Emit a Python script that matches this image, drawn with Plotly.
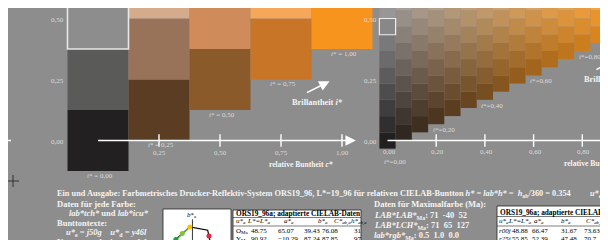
import plotly.graph_objects as go

W, H = 608, 240
BG = "#8d8d8d"
SERIF = "Liberation Serif"
TXT = "#f4f4f4"
LBL = "#dcdcdc"


def px(x):
    return x / W


def py(y):
    return 1 - y / H


# ---------------- left chart (relative chroma c*, relative lightness l*) ----------------
left_c = [0.0, 0.0, 0.0, 0.25, 0.25, 0.25, 0.50, 0.50, 0.75, 0.75, 1.00]
left_l = [0.0, 0.25, 0.50, 0.125, 0.375, 0.625, 0.25, 0.50, 0.375, 0.625, 0.50]
left_colors = ["#232021", "#5a5a58", "#8d8d8d", "#5a3d23", "#98735a", "#d4ac8c",
               "#8b5a2b", "#cf8b5a", "#c87528", "#f7a75a", "#f7941d"]
left_outlined = [False, False, True, False, False, False, False, False, False, False, False]
left_step = 0.25
left_xticks = [0.25, 0.50, 0.75, 1.00]
left_xtick_text = ["0,25", "0,50", "0,75", "1,00"]
left_yticks = [0.0, 0.25, 0.50]
left_ytick_text = ["0,00", "0,25", "0,50"]
left_brill_c = [0.0, 0.25, 0.50, 0.75, 1.00]
left_brill_low = [0.0, 0.125, 0.25, 0.375, 0.50]
left_brill_text = ["0,00", "0,25", "0,50", "0,75", "1,00"]

# ---------------- right chart (15 steps) ----------------
right_c = [0/15, 1/15, 2/15, 3/15, 4/15, 5/15, 6/15, 7/15, 8/15, 9/15, 10/15,
           11/15, 12/15, 13/15, 14/15, 15/15]
right_cells = [16, 15, 14, 13, 12, 11, 10, 9, 8, 7, 6, 5, 4, 3, 2, 1]
right_step = 1 / 15
right_outlined_cell = (0, 7)
black_rgb = (34, 31, 32)
white_rgb = (255, 255, 255)
max_rgb = (247, 148, 29)
right_xticks = [0.2, 0.4, 0.6, 0.8]
right_xtick_text = ["0,00", "0,20", "0,40", "0,60", "0,80"]
right_yticks = [0.0, 0.25, 0.50]
right_ytick_text = ["0,00", "0,25", "0,50"]
right_brill_c = [0.0, 0.2, 0.4, 0.6, 0.8]
right_brill_text = ["0,00", "0,20", "0,40", "0,60", "0,80"]

# ---------------- hue diagram ----------------
poly_a = [-50.0, -65.44, -10.29, 60.0, 65.07, 75.0]
poly_b = [-25.0, 20.75, 87.24, 70.0, 39.43, -25.0]
dot_a = [-65.44, -10.29, 65.07, -40.0]
dot_b = [20.75, 87.24, 39.43, 52.0]
dot_col = ["#13a04a", "#f5c400", "#e8233c", "#7cc43c"]
hue_line_a = [-10.29, -85.0]
hue_line_b = [87.24, -9.0]

# ---------------- tables ----------------
tab_title = "ORS19_96a; adaptierte CIELAB-Daten"
tab_head = ["u*<sub>a</sub>", "L*=L*<sub>a</sub>", "a*<sub>a</sub>", "b*<sub>a</sub>",
            "C*<sub>ab,a</sub>", "h*<sub>ab,a</sub>"]
t1_rows = [["O<sub>Ma</sub>", "48.75", "65.07", "39.43", "76.08", "31"],
           ["Y<sub>Ma</sub>", "90.92", "\u221210.29", "87.24", "87.85", "97"],
           ["L<sub>Ma</sub>", "57.69", "\u221265.44", "20.75", "68.65", "162"]]
t2_rows = [["<i>r00j</i>", "48.88", "66.47", "31.67", "73.63", "25"],
           ["<i>r25j</i>", "55.85", "52.39", "47.48", "70.7", "42"],
           ["<i>r50j</i>", "65.45", "35.22", "58.37", "68.17", "59"]]
ma_lab = ["71", "-40", "52"]
ma_lch = ["71", "65", "127"]
ma_rgb = ["0.5", "1.0", "0.0"]

fig = go.Figure()

# axis lines (below the colour cells)
fig.add_trace(go.Scatter(x=[0, 1.0], y=[0, 0], mode="lines", line=dict(color="white", width=1.5),
                         xaxis="x", yaxis="y", hoverinfo="skip", showlegend=False))
fig.add_trace(go.Scatter(x=[0, 1.3], y=[0, 0], mode="lines", line=dict(color="white", width=1.5),
                         xaxis="x2", yaxis="y", hoverinfo="skip", showlegend=False))

# left cells
fig.add_trace(go.Bar(x=left_c, y=[left_step] * len(left_c), base=[l - left_step / 2 for l in left_l],
                     width=left_step, marker=dict(color=left_colors, line=dict(width=0)),
                     xaxis="x", yaxis="y", hoverinfo="skip", showlegend=False))
oc = [c for c, o in zip(left_c, left_outlined) if o]
ol = [l for l, o in zip(left_l, left_outlined) if o]
ocol = [k for k, o in zip(left_colors, left_outlined) if o]
fig.add_trace(go.Bar(x=oc, y=[left_step] * len(oc), base=[l - left_step / 2 for l in ol],
                     width=left_step, marker=dict(color=ocol, line=dict(width=1.6, color="#e8e8e8")),
                     xaxis="x", yaxis="y", hoverinfo="skip", showlegend=False))


def mix(c, l):
    w = l - c / 2
    b = 1 - c - w
    rgb = [min(255, max(0, round(c * m + w * wh + b * bk))) for m, wh, bk in zip(max_rgb, white_rgb, black_rgb)]
    return "rgb(%d,%d,%d)" % tuple(rgb)


rx, rb, rcol = [], [], []
for k, (c, n) in enumerate(zip(right_c, right_cells)):
    for j in range(n):
        l = c / 2 + j * right_step
        rx.append(c)
        rb.append(l - right_step / 2)
        rcol.append(mix(c, l))
fig.add_trace(go.Bar(x=rx, y=[right_step] * len(rx), base=rb, width=right_step,
                     marker=dict(color=rcol, line=dict(width=0)),
                     xaxis="x2", yaxis="y", hoverinfo="skip", showlegend=False))
kc, kj = right_outlined_cell
lo = right_c[kc] / 2 + kj * right_step
fig.add_trace(go.Bar(x=[right_c[kc]], y=[right_step], base=[lo - right_step / 2], width=right_step,
                     marker=dict(color=mix(right_c[kc], lo), line=dict(width=1.2, color="#eeeeee")),
                     xaxis="x2", yaxis="y", hoverinfo="skip", showlegend=False))

# tick marks
fig.add_trace(go.Scatter(x=left_xticks, y=[0] * len(left_xticks), mode="markers",
                         marker=dict(symbol="line-ns", size=9, line=dict(color="white", width=1.4)),
                         xaxis="x", yaxis="y", hoverinfo="skip", showlegend=False))
fig.add_trace(go.Scatter(x=right_xticks, y=[0] * len(right_xticks), mode="markers",
                         marker=dict(symbol="line-ns", size=9, line=dict(color="white", width=1.4)),
                         xaxis="x2", yaxis="y", hoverinfo="skip", showlegend=False))

# hue diagram
fig.add_trace(go.Scatter(x=[-110, 95], y=[0, 0], mode="lines", line=dict(color="black", width=0.8),
                         xaxis="x3", yaxis="y3", hoverinfo="skip", showlegend=False))
fig.add_trace(go.Scatter(x=[0, 0], y=[-25, 128], mode="lines", line=dict(color="black", width=0.8),
                         xaxis="x3", yaxis="y3", hoverinfo="skip", showlegend=False))
fig.add_trace(go.Scatter(x=poly_a, y=poly_b, mode="lines", line=dict(color="black", width=1.2),
                         xaxis="x3", yaxis="y3", hoverinfo="skip", showlegend=False))
fig.add_trace(go.Scatter(x=hue_line_a, y=hue_line_b, mode="lines", line=dict(color="#6cc040", width=1.2),
                         xaxis="x3", yaxis="y3", hoverinfo="skip", showlegend=False))
fig.add_trace(go.Scatter(x=dot_a, y=dot_b, mode="markers", marker=dict(color=dot_col, size=5),
                         xaxis="x3", yaxis="y3", hoverinfo="skip", showlegend=False))

ann = []


def text(x, y, t, size=8.5, color=TXT, xanchor="left", xref="paper", yref="paper", **kw):
    d = dict(x=x, y=y, text=t, xref=xref, yref=yref, xanchor=xanchor, yanchor="middle",
             showarrow=False, font=dict(family=SERIF, size=size, color=color), borderpad=0)
    d.update(kw)
    ann.append(d)


# tick labels
for v, t in zip(left_xticks, left_xtick_text):
    text(v, py(144.5), t, size=7, color=LBL, xanchor="center", xref="x")
for v, t in zip([0.0] + right_xticks, right_xtick_text):
    text(v, py(144), t, size=7, color=LBL, xanchor="center", xref="x2", xshift=1.5)
for v, t in zip(left_yticks, left_ytick_text):
    text(px(57), v, t, size=7, color=LBL, xanchor="right", yref="y", yshift=-1.5)
for v, t in zip(right_yticks, right_ytick_text):
    text(px(362), v, t, size=7, color=LBL, xanchor="center", yref="y", yshift=-1.5)

# brilliance labels
for c, lo_, t in zip(left_brill_c, left_brill_low, left_brill_text):
    text(c, lo_ - left_step / 2, "<i>i</i>* = " + t, size=7, color=LBL, xanchor="center",
         xref="x", yref="y", xshift=1.5, yshift=-4.5)
for c, t in zip(right_brill_c, right_brill_text):
    text(c - right_step / 2, c / 2 - right_step / 2, "<i>i</i>*=" + t, size=7, color=LBL,
         xref="x2", yref="y", xshift=3.5, yshift=(-13 if c == 0 else -6))

# axis titles / Brillantheit
text(px(292.5), py(156), "<b>relative Buntheit <i>c*</i></b>", size=7.6, xanchor="center")
text(px(555), py(155), "<b>relative Buntheit <i>c*</i></b>", size=7.6)
text(px(310), py(95), "<b>Brillantheit <i>i*</i></b>", size=8.4, xanchor="center")
text(px(575), py(71), "<b>Brillantheit <i>i*</i></b>", size=8.4)

# arrows
ann.append(dict(x=1.057, y=0, ax=0.99, ay=0, xref="x", yref="y", axref="x", ayref="y", text="",
                showarrow=True, arrowhead=2, arrowsize=1.4, arrowwidth=1.5, arrowcolor="white"))
ann.append(dict(x=0.949, y=0.243, ax=0.85, ay=0.193, xref="x", yref="y", axref="x", ayref="y", text="",
                showarrow=True, arrowhead=2, arrowsize=1.3, arrowwidth=1.6, arrowcolor="white"))
ann.append(dict(x=0.946, y=0.34, ax=0.852, ay=0.287, xref="x2", yref="y", axref="x2", ayref="y", text="",
                showarrow=True, arrowhead=2, arrowsize=1.3, arrowwidth=1.6, arrowcolor="white"))

# bottom text
text(px(48), py(186), "<b>Ein und Ausgabe: Farbmetrisches Drucker-Reflektiv-System ORS19_96, L*=19_96 "
     "für relativen CIELAB-Buntton <i>h* = lab*h* = </i> <i>h</i><sub>ab</sub>/360 = 0.354</b>", size=8.3)
text(px(581), py(186), "<b><i>u*</i><sub>e</sub> =</b>", size=8.3)
text(px(48), py(196), "<b>Daten für jede Farbe:</b>")
text(px(60), py(205), "<b><i>lab*tch*</i> und <i>lab*icu*</i></b>")
text(px(48), py(215), "<b>Bunttontexte:</b>")
text(px(57), py(224), "<b><i>u*</i><sub>e</sub><i> = j50g</i>\u00a0\u00a0\u00a0\u00a0<i>u*</i><sub>d</sub><i> = y46l</i></b>")
text(px(48), py(234), "<b>Kontrastreduzierungsfaktor:</b>")
sp = "\u00a0\u00a0"
text(px(365), py(196), "<b>Daten für Maximalfarbe (Ma):</b>")
text(px(365), py(207), "<b><i>LAB*LAB*</i><sub>Ma</sub>: " + sp.join(ma_lab) + "</b>")
text(px(365), py(217), "<b><i>LAB*LCH*</i><sub>Ma</sub>: " + sp.join(ma_lch) + "</b>")
text(px(365), py(227), "<b><i>lab*rgb*</i><sub>Ma</sub>: " + sp.join(ma_rgb) + "</b>")

# hue diagram labels
text(-2, 150, "<i>b</i>*<sub>a</sub>", size=7, color="black", xanchor="center", xref="x3", yref="y3")
text(px(215), py(235), "<i>a</i>*<sub>a</sub>", size=7, color="black", xanchor="center")

# tables
t1_cols = [227, 242, 269, 295, 313, 345]
t1_hcols = [227, 238, 275, 309, 325, 342]
t2_cols = [490, 503, 523, 552, 575, 600]
t2_hcols = [490, 499, 525, 552, 577, 598]
TS = 7
for (x0, ytitle, cols, hcols, rows, rowy) in [
        (227, 205, t1_cols, t1_hcols, t1_rows, [223, 231, 239]),
        (491, 204, t2_cols, t2_hcols, t2_rows, [223, 231, 238])]:
    text(px(x0), py(ytitle), "<b>" + tab_title + "</b>", size=7.3, color="black")
    for hx, h in zip(hcols, tab_head):
        text(px(hx), py(213), "<i>" + h + "</i>", size=TS, color="black")
    for ry, row in zip(rowy, rows):
        for cx, v in zip(cols, row):
            text(px(cx), py(ry), v, size=TS, color="black")

shapes = [
    dict(type="rect", xref="paper", yref="paper", x0=px(155), x1=px(223), y0=py(250), y1=py(201),
         fillcolor="white", line=dict(color="#222", width=0.8), layer="below"),
    dict(type="rect", xref="paper", yref="paper", x0=px(225), x1=px(353), y0=py(250), y1=py(202),
         fillcolor="white", line=dict(color="#222", width=0.8), layer="below"),
    dict(type="rect", xref="paper", yref="paper", x0=px(489), x1=px(620), y0=py(250), y1=py(198),
         fillcolor="white", line=dict(color="#222", width=0.8), layer="below"),
    dict(type="line", xref="paper", yref="paper", x0=px(225), x1=px(353), y0=py(209.5), y1=py(209.5),
         line=dict(color="#222", width=0.6), layer="below"),
    dict(type="line", xref="paper", yref="paper", x0=px(225), x1=px(353), y0=py(218), y1=py(218),
         line=dict(color="#222", width=0.6), layer="below"),
    dict(type="line", xref="paper", yref="paper", x0=px(489), x1=px(620), y0=py(208.5), y1=py(208.5),
         line=dict(color="#222", width=0.6), layer="below"),
    dict(type="line", xref="paper", yref="paper", x0=px(489), x1=px(620), y0=py(218), y1=py(218),
         line=dict(color="#222", width=0.6), layer="below"),
    # registration cross and edge tick
    dict(type="line", xref="paper", yref="paper", x0=px(0), x1=px(11), y0=py(173), y1=py(173),
         line=dict(color="#333", width=1)),
    dict(type="line", xref="paper", yref="paper", x0=px(5), x1=px(5), y0=py(167), y1=py(179),
         line=dict(color="#333", width=1)),
    dict(type="line", xref="paper", yref="paper", x0=px(0), x1=px(3), y0=py(132.5), y1=py(132.5),
         line=dict(color="white", width=1.5)),
]

ax_common = dict(visible=False, showgrid=False, zeroline=False, fixedrange=True)
fig.update_layout(
    width=W, height=H, margin=dict(l=0, r=0, t=0, b=0),
    paper_bgcolor=BG, plot_bgcolor="rgba(0,0,0,0)",
    barmode="overlay", showlegend=False,
    xaxis=dict(domain=[0, 1], range=[(0 - 90) / 244, (608 - 90) / 244], **ax_common),
    xaxis2=dict(domain=[0, 1], range=[(0 - 379.5) / 243.5, (608 - 379.5) / 243.5],
                overlaying="x", anchor="y", **ax_common),
    yaxis=dict(domain=[0, 1], range=[(132.5 - 240) / 244, 132.5 / 244], **ax_common),
    xaxis3=dict(domain=[px(155), px(223)], range=[-116, 152], anchor="y3", **ax_common),
    yaxis3=dict(domain=[0, py(201)], range=[-25, 183], anchor="x3", **ax_common),
    annotations=ann, shapes=shapes,
)

fig.write_html("out.html")
